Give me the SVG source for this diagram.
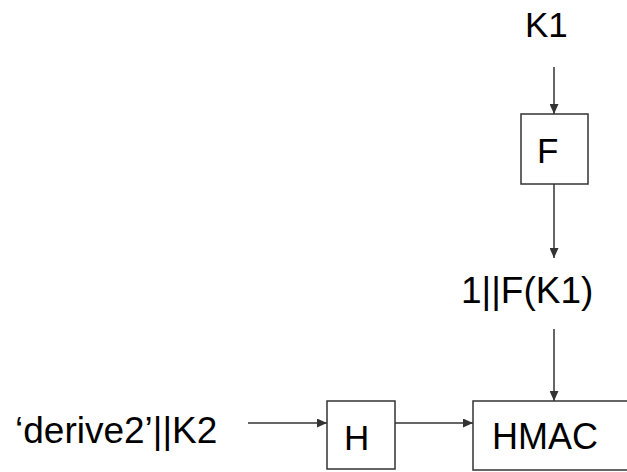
<svg xmlns="http://www.w3.org/2000/svg" width="627" height="472" viewBox="0 0 627 472">
  <style>
    .box { fill: #ffffff; stroke: #333333; stroke-width: 1.5; }
    .lbl { font-family: "Liberation Sans", Arial, sans-serif; font-size: 35px; fill: #000000; }
    .wide { font-size: 37px; }
    .edge { stroke: #333333; stroke-width: 1.5; fill: none; marker-end: url(#arrow); }
  </style>
  <defs>
    <marker id="arrow" markerWidth="10" markerHeight="9" refX="10" refY="4.5" orient="auto" markerUnits="userSpaceOnUse">
      <path d="M0,0 L10,4.5 L0,9 Z" fill="#333333"/>
    </marker>
  </defs>
  <rect width="627" height="472" fill="#ffffff"/>

  <g id="connectors">
    <line class="edge" x1="554" y1="67" x2="554" y2="114"/>
    <line class="edge" x1="554" y1="184" x2="554" y2="258"/>
    <line class="edge" x1="554" y1="329" x2="554" y2="401"/>
    <line class="edge" x1="248" y1="423" x2="327" y2="423"/>
    <line class="edge" x1="395" y1="423" x2="473" y2="423"/>
  </g>

  <g id="k1">
    <text class="lbl" x="525" y="37">K1</text>
  </g>

  <g id="f">
    <rect class="box" x="521" y="114" width="67" height="70"/>
    <text class="lbl" x="537" y="163">F</text>
  </g>

  <g id="f-k1">
    <text class="lbl wide" x="461" y="303">1||F(K1)</text>
  </g>

  <g id="derive2">
    <text class="lbl wide" x="15" y="443">‘derive2’||K2</text>
  </g>

  <g id="h">
    <rect class="box" x="327" y="401" width="68" height="68"/>
    <text class="lbl" x="344" y="450">H</text>
  </g>

  <g id="hmac">
    <rect class="box" x="473" y="401" width="170" height="69"/>
    <text class="lbl" x="492" y="449" style="font-size:36px">HMAC</text>
  </g>
</svg>
